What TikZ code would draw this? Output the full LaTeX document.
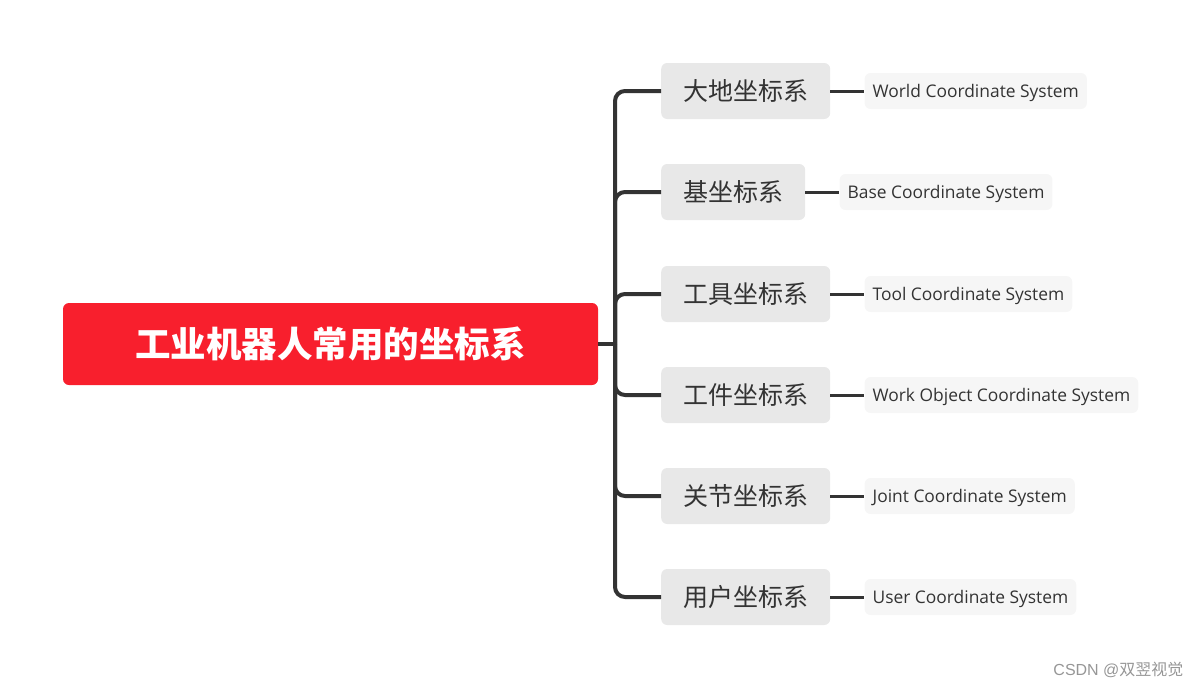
\documentclass[tikz,border=0pt]{standalone}
\usepackage{fontspec}
\setmainfont{Open Sans}
\newfontfamily\cjk{Noto Sans CJK SC}
\newfontfamily\marksans{Liberation Sans}
\usetikzlibrary{positioning}
\definecolor{rootred}{RGB}{248,31,45}
\definecolor{linegray}{RGB}{51,51,51}
\definecolor{branchfill}{RGB}{232,232,232}
\definecolor{leaffill}{RGB}{246,246,246}
\definecolor{marktext}{RGB}{150,150,150}

\begin{document}
\begin{tikzpicture}[x=1pt,y=-1pt,
  rootbox/.style={fill=rootred, rounded corners=6pt, minimum width=535pt, minimum height=82pt,
    text=white, font=\cjk\bfseries\fontsize{35.5}{40}\selectfont},
  branchbox/.style={fill=branchfill, rounded corners=6pt, minimum height=56pt, inner xsep=22pt,
    text=linegray, font=\cjk\fontsize{25}{28}\selectfont, anchor=west},
  leafbox/.style={fill=leaffill, rounded corners=6pt, minimum height=36pt, inner xsep=8pt,
    text=linegray, font=\fontsize{17.4}{19}\selectfont, text height=12.4pt, text depth=0pt,
    anchor=west},
  trunk/.style={draw=linegray, line width=4pt},
  twig/.style={draw=linegray, line width=3pt}]
  \useasboundingbox (0,0) rectangle (1201,688);
  % Root
  \node[rootbox] (root) at (330.5,344) {工业机器人常用的坐标系};
  \coordinate (fork) at (615,344);
  \draw[trunk] (root.east) -- (fork);
  % Branches and leaves
  \foreach \name/\yy/\zh/\en in {world/91/大地坐标系/World Coordinate System,
      base/192/基坐标系/Base Coordinate System,
      tool/294/工具坐标系/Tool Coordinate System,
      work/395/工件坐标系/Work Object Coordinate System,
      joint/496/关节坐标系/Joint Coordinate System,
      user/597/用户坐标系/User Coordinate System} {
    \node[branchbox] (\name) at (661,\yy) {\zh};
    \node[leafbox, right=34pt of \name] (\name-en) {\en};
    \draw[trunk, rounded corners=10pt] (fork) |- (\name.west);
    \draw[twig] (\name.east) -- (\name-en.west);
  }
  % Watermark
  \node[text=marktext, font=\marksans\fontsize{16}{18}\selectfont, anchor=east] (mark)
    at (1187,670) {CSDN @{\cjk 双翌视觉}};
\end{tikzpicture}
\end{document}
